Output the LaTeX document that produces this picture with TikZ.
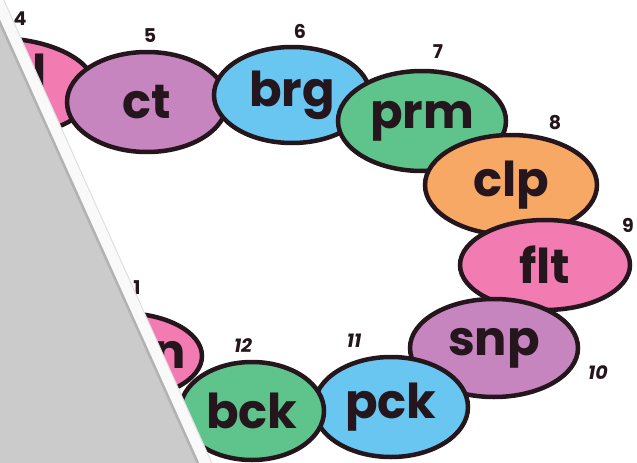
\documentclass[tikz,border=0pt]{standalone}
\usepackage{fontspec}
\setmainfont{Poppins}
\usetikzlibrary{shapes.geometric}
\definecolor{pinkc}{HTML}{F27BB2}
\definecolor{purplec}{HTML}{C685BE}
\definecolor{bluec}{HTML}{68C6F0}
\definecolor{greenc}{HTML}{5EC48C}
\definecolor{orangec}{HTML}{F6A864}
\definecolor{inkc}{HTML}{24161C}
\definecolor{pagec}{HTML}{CBCBCB}
\tikzset{
  bead/.style={ellipse, draw=inkc, line width=4.5pt, inner sep=0pt,
    font=\fontsize{48}{48}\selectfont\bfseries, text=inkc},
  num/.style={font=\fontsize{19}{19}\selectfont\bfseries, text=inkc, inner sep=0pt}
}
\begin{document}
\begin{tikzpicture}[x=1pt, y=-1pt]
  \useasboundingbox (0,0) rectangle (637,463);
  \begin{scope}
    \clip (0,0) rectangle (637,463);
    % chain of beads, each drawn over the previous one
    \node[bead, fill=pinkc, minimum width=200pt, minimum height=100pt] (n4) at (-5,88) {};
    \node[bead, fill=purplec, minimum width=160pt, minimum height=100pt] (n5) at (147,102) {ct};
    \node[bead, fill=bluec, minimum width=156pt, minimum height=96pt] (n6) at (292,95) {brg};
    \node[bead, fill=greenc, minimum width=168pt, minimum height=100pt] (n7) at (422,121) {prm};
    \node[bead, fill=orangec, minimum width=172pt, minimum height=100pt] (n8) at (511,185) {clp};
    \node[bead, fill=pinkc, minimum width=170pt, minimum height=90pt] (n9) at (545,265) {flt};
    \node[bead, fill=purplec, minimum width=168pt, minimum height=98pt] (n10) at (494,348) {snp};
    \node[bead, fill=bluec, minimum width=154pt, minimum height=100pt] (n11) at (391,407) {pck};
    \node[bead, fill=pinkc, minimum width=160pt, minimum height=86pt] (n1) at (122,356) {};
    \node[bead, fill=greenc, minimum width=144pt, minimum height=98pt] (n12) at (252,411) {bck};
    % letters of the two half-hidden beads
    \node[bead, draw=none, fill=none, anchor=center] (t4) at (40,72) {l};
    \node[bead, draw=none, fill=none, anchor=center] (t1) at (170,355) {n};
    % bead numbers
    \node[num] (l4) at (20,19) {4};
    \node[num] (l5) at (150,36) {5};
    \node[num] (l6) at (300,31) {6};
    \node[num] (l7) at (438,52) {7};
    \node[num] (l8) at (555,123) {8};
    \node[num] (l9) at (628,225) {9};
    \node[num] (l10) at (598,373) {\itshape 10};
    \node[num] (l11) at (354,341) {\itshape 11};
    \node[num] (l12) at (243,346) {\itshape 12};
    \node[num] (l1) at (137,288) {1};
    % turned page covering the left side
    \fill[pagec] (-12,-4) -- (210,490) -- (-20,490) -- cycle;
    \fill[white!95!gray] (-12,-4) -- (210,490) -- (224,490) -- (2,-4) -- cycle;
    \draw[gray!60, line width=2.5pt] (-12,-4) -- (210,490);
    \draw[gray!25, line width=1pt] (2,-4) -- (224,490);
  \end{scope}
\end{tikzpicture}
\end{document}
